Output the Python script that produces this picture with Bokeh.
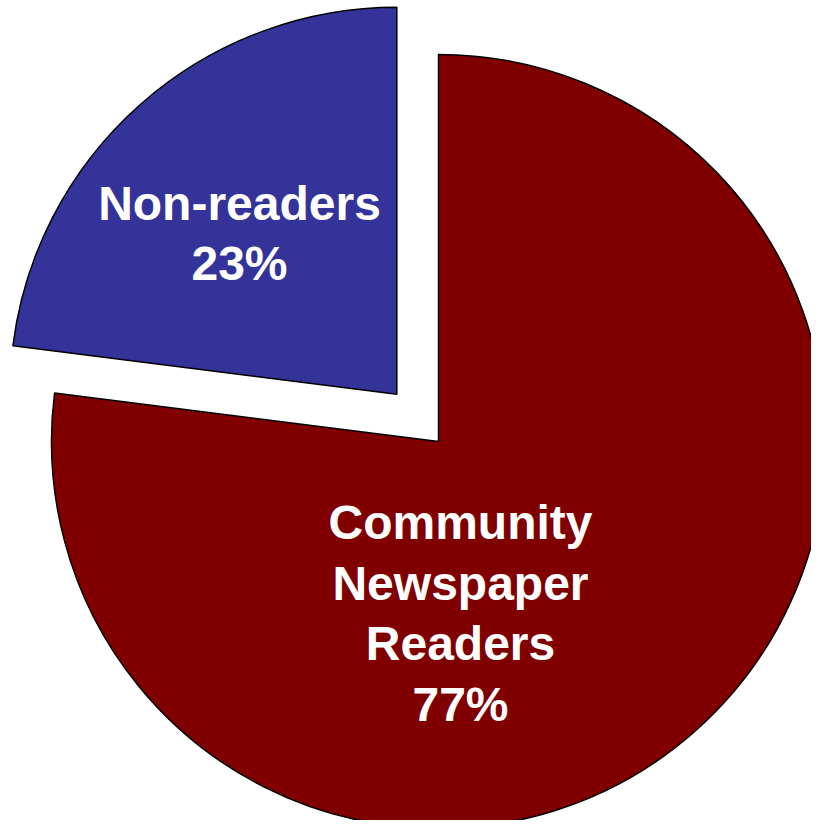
import math
from bokeh.plotting import figure
from bokeh.models import Range1d, ColumnDataSource
from bokeh.core.properties import value
from bokeh.embed import file_html
from bokeh.resources import INLINE

# ---- data ----
categories = ["Community\nNewspaper\nReaders", "Non-readers"]
shares = [77, 23]
pct_labels = ["77%", "23%"]
colors = ["#800000", "#333399"]

# ---- styles / layout ----
R = 387
explode = [0, 63]
label_pos = [(22, -172), (-199, 208)]
W, H = 811, 820

total = sum(shares)
start = math.pi / 2
xs, ys, sa, ea = [], [], [], []
for v, ex in zip(shares, explode):
    span = 2 * math.pi * v / total
    end_cw = start - span
    mid = (start + end_cw) / 2
    xs.append(ex * math.cos(mid))
    ys.append(ex * math.sin(mid))
    sa.append(end_cw)
    ea.append(start)
    start = end_cw

src = ColumnDataSource(dict(x=xs, y=ys, sa=sa, ea=ea, color=colors))

p = figure(width=W, height=H, output_backend="svg", toolbar_location=None,
           x_range=Range1d(-438, -438 + W), y_range=Range1d(441 - H, 441),
           min_border=0, outline_line_color=None)
p.axis.visible = False
p.grid.visible = False
p.background_fill_color = "white"
p.border_fill_color = "white"

p.wedge(x="x", y="y", radius=R, start_angle="sa", end_angle="ea",
        fill_color="color", line_color="black", line_width=1.5, source=src)

lsrc = ColumnDataSource(dict(
    x=[lp[0] for lp in label_pos],
    y=[lp[1] for lp in label_pos],
    t=[c + "\n" + pc for c, pc in zip(categories, pct_labels)],
))
p.text(x="x", y="y", text="t", source=lsrc, text_color="white",
       text_font=value("Liberation Sans"), text_font_style="bold",
       text_font_size="48px", text_align="center", text_baseline="middle",
       text_line_height=1.15)

open("out.html", "w").write(file_html(p, INLINE))
